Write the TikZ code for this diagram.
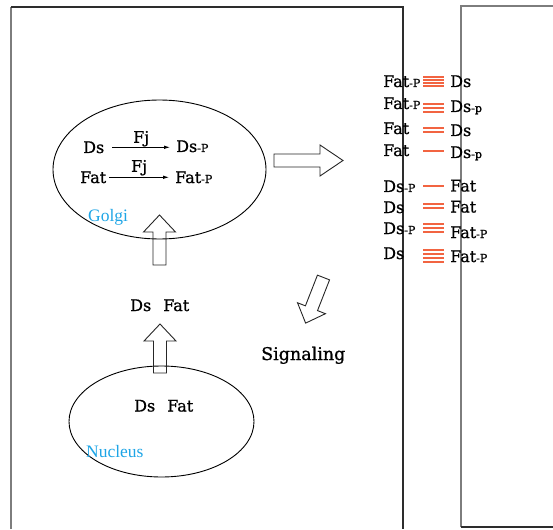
\documentclass[tikz,border=0pt]{standalone}
\usepackage{fontspec}
\setmainfont{DejaVu Serif}[RawFeature={embolden=1}]
\newfontfamily\lblfont{Liberation Serif}
\usetikzlibrary{arrows.meta,calc}
\definecolor{lblblue}{RGB}{30,165,230}
\definecolor{bondred}{RGB}{242,100,65}
\definecolor{wallgray}{RGB}{125,125,125}
\definecolor{walldark}{RGB}{45,45,45}
% small phospho tag set on the baseline
\newcommand\phos[1]{{\fontsize{11}{12}\selectfont #1}}
% open block arrow: tail x, tail y, angle, length, head length, head half width
\newcommand\blockarrow[6]{%
  \draw[blockarr, shift={(#1,#2)}, rotate=#3]
    (0,-6.5) -- (#4-#5,-6.5) -- (#4-#5,-#6) -- (#4,0) -- (#4-#5,#6) -- (#4-#5,6.5) -- (0,6.5) -- cycle;}
% stacked bond lines: centre y, count, spacing
\newcommand\bondlines[3]{%
  \foreach \k in {1,...,#2}{%
    \draw[bond] (423,{#1+(\k-(#2+1)/2)*#3}) -- (444,{#1+(\k-(#2+1)/2)*#3});}}
\tikzset{
  txt/.style={font=\fontsize{16}{19}\selectfont, inner sep=0pt, anchor=base west},
  lbl/.style={font=\lblfont\fontsize{17.5}{20}\selectfont, text=lblblue, inner sep=0pt, anchor=base west},
  organelle/.style={draw=black, line width=0.9pt},
  fjarrow/.style={line width=0.8pt, -{Latex[length=6pt,width=3.6pt]}},
  blockarr/.style={draw=black!85, line width=0.9pt},
  bond/.style={draw=bondred, line width=1.7pt},
  wallg/.style={draw=wallgray, line width=1.6pt},
  walld/.style={draw=walldark, line width=1.1pt}
}
\begin{document}
\begin{tikzpicture}[x=1pt, y=-1pt]
\useasboundingbox (0,0) rectangle (553,529);

% cell walls
\draw[wallg] (11,529) -- (11,7);
\draw[walld] (11,7) -- (403,7) -- (403,529);
\draw[wallg] (461,527) -- (461,6) -- (553,6);
\draw[walld] (461,527) -- (553,527);

% organelles
\draw[organelle] (159.5,169.5) ellipse [x radius=106.5, y radius=69.5];
\draw[organelle] (161.5,421.5) ellipse [x radius=92.5, y radius=55.5];
\node[lbl] (golgi) at (88,222) {Golgi};
\node[lbl] (nucleus) at (86,457) {Nucleus};

% phosphorylation by Fj in the Golgi
\node[txt] (dsA) at (83,153) {Ds};
\node[txt] (dsP) at (176,152) {Ds\phos{-P}};
\node[txt] (fatA) at (80,183) {Fat};
\node[txt] (fatP) at (175,183) {Fat\phos{-P}};
\draw[fjarrow] ([xshift=8pt]dsA.east) -- ([xshift=-6pt]dsA.east -| dsP.west)
  node[midway, above, inner sep=0.5pt, font=\fontsize{16}{19}\selectfont] {Fj};
\draw[fjarrow] ([xshift=3pt]fatA.east) -- ([xshift=-6pt]fatA.east -| fatP.west)
  node[midway, above, inner sep=1.5pt, font=\fontsize{16}{19}\selectfont] {Fj};

% nucleus and transport
\node[txt] (nucDF) at (134,411.5) {Ds\hspace{12pt}Fat};
\node[txt] (midDF) at (130,311) {Ds\hspace{12pt}Fat};
\node[txt, font=\fontsize{17.5}{20}\selectfont] (signal) at (261,360) {Signaling};
\blockarrow{160}{373}{90}{49}{17}{16}
\blockarrow{159.5}{265}{90}{50}{17}{16}
\blockarrow{274}{160.5}{0}{69}{23}{15.5}
\blockarrow{323.5}{277.5}{-111.4}{49}{16}{15}

% Fat--Ds pairs across the junction
\node[txt] (l1) at (383,87) {Fat\phos{-P}};  \node[txt] (r1) at (450,87) {Ds};
\node[txt] (l2) at (383,109) {Fat\phos{-P}}; \node[txt] (r2) at (450,112) {Ds\phos{-p}};
\node[txt] (l3) at (383,134) {Fat};          \node[txt] (r3) at (450,136) {Ds};
\node[txt] (l4) at (383,156) {Fat};          \node[txt] (r4) at (450,158) {Ds\phos{-p}};
\node[txt] (l5) at (383,192) {Ds\phos{-P}};  \node[txt] (r5) at (450,191.5) {Fat};
\node[txt] (l6) at (383,213) {Ds};           \node[txt] (r6) at (450,212.5) {Fat};
\node[txt] (l7) at (383,234) {Ds\phos{-P}};  \node[txt] (r7) at (450,238) {Fat\phos{-P}};
\node[txt] (l8) at (383,259) {Ds};           \node[txt] (r8) at (450,262) {Fat\phos{-P}};

\bondlines{81.5}{4}{3}
\bondlines{108}{3}{4}
\bondlines{130}{2}{4}
\bondlines{151}{1}{4}
\bondlines{186}{1}{4}
\bondlines{206}{2}{4}
\bondlines{228}{3}{4}
\bondlines{256}{4}{4}
\end{tikzpicture}
\end{document}
